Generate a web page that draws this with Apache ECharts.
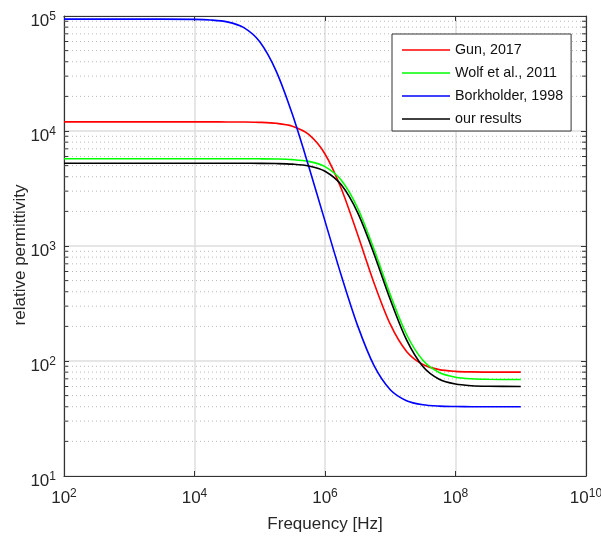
<!DOCTYPE html>
<html><head><meta charset="utf-8">
<script src="https://cdn.jsdelivr.net/npm/echarts@6/dist/echarts.min.js"></script>
<style>html,body{margin:0;padding:0;background:#fff}#c{width:601px;height:541px}</style>
</head><body><div id="c"></div>
<script>
// Frequencies [Hz] (sample points)
const freq = [1e2, 1e3, 1e4, 1.778e4, 3.162e4, 5.623e4, 1e5, 1.778e5, 3.162e5, 5.623e5,
              1e6, 1.778e6, 3.162e6, 5.623e6, 1e7, 1.778e7, 3.162e7, 5.623e7,
              1e8, 1.778e8, 3.162e8, 1e9];
const gun  = [12000, 12000, 11999, 11996, 11989, 11966, 11892, 11666, 11004, 9335,
              6314, 3149, 1258, 480, 209, 121, 93.1, 84.1, 81.3, 80.4, 80.1, 80];
const wolf = [5740, 5740, 5740, 5740, 5739, 5736, 5729, 5708, 5642, 5443,
              4899, 3727, 2140, 941, 377.5, 170, 101.4, 79.3, 72.3, 70, 69.3, 69];
const bork = [94000, 94000, 93460, 92320, 88890, 79530, 59700, 33360, 13960, 4934,
              1646, 553, 203, 91.6, 56.3, 45.2, 41.6, 40.5, 40.2, 40.05, 40, 40];
const ours = [5240, 5240, 5240, 5240, 5239, 5237, 5231, 5212, 5151, 4970,
              4472, 3402, 1952, 857, 342, 152.5, 89.6, 69.4, 63, 60.9, 60.3, 60];
const seriesNames = ['Gun, 2017', 'Wolf et al., 2011', 'Borkholder, 1998', 'our results'];
const seriesColors = ['#ff0000', '#00ff00', '#0000ff', '#000000'];
const xLabel = 'Frequency [Hz]';
const yLabel = 'relative permittivity';
const minorY = [20,30,40,50,60,70,80,90, 200,300,400,500,600,700,800,900,
                2000,3000,4000,5000,6000,7000,8000,9000, 20000,30000,40000,50000,60000,70000,80000,90000];

const FONT = "'Liberation Sans', Arial, sans-serif";
const TXT = '#262626';
const allData = [gun, wolf, bork, ours];

function pow10Label(v) {
  const e = Math.round(Math.log10(v));
  return '{b|10}{s|' + e + '}';
}
const rich = {
  b: {fontSize: 17, fontFamily: FONT, color: TXT, verticalAlign: 'bottom'},
  s: {fontSize: 12, fontFamily: FONT, color: TXT, verticalAlign: 'top', padding: [0, 0, 7, 0]}
};

const lineSeries = allData.map((arr, i) => ({
  name: seriesNames[i],
  type: 'line',
  data: freq.map((f, j) => [f, arr[j]]),
  symbol: 'none',
  smooth: 0.3,
  lineStyle: {color: seriesColors[i], width: 1.6},
  itemStyle: {color: seriesColors[i]},
  z: 5 + i,
  animation: false
}));

const minorSeries = {
  type: 'custom',
  silent: true,
  animation: false,
  clip: false,
  z: 1,
  data: minorY.map(v => [1e2, v]),
  encode: {x: 0, y: 1},
  renderItem: function (params, api) {
    const v = api.value(1);
    const p0 = api.coord([1e2, v]);
    const p1 = api.coord([1e10, v]);
    return {
      type: 'group',
      children: [
        {type: 'line', shape: {x1: p0[0], y1: p0[1], x2: p1[0], y2: p1[1]},
         style: {stroke: '#b8b8b8', lineWidth: 1, lineDash: [1, 3]}},
        {type: 'line', shape: {x1: p0[0], y1: p0[1], x2: p0[0] + 4, y2: p0[1]},
         style: {stroke: '#333', lineWidth: 1}},
        {type: 'line', shape: {x1: p1[0], y1: p1[1], x2: p1[0] - 4, y2: p1[1]},
         style: {stroke: '#333', lineWidth: 1}}
      ]
    };
  }
};

const axisLineStyle = {color: '#333', width: 1.2};
const chart = echarts.init(document.getElementById('c'), null, {renderer: 'canvas'});
chart.setOption({
  backgroundColor: '#fff',
  animation: false,
  grid: {left: 64, top: 16, right: 15, bottom: 65, containLabel: false, outerBoundsMode: 'none'},
  legend: {
    data: seriesNames,
    orient: 'vertical',
    left: 392, top: 34,
    padding: [9, 8, 5, 10],
    itemWidth: 48, itemHeight: 14, itemGap: 9,
    backgroundColor: '#fff',
    borderColor: '#333', borderWidth: 1,
    textStyle: {fontFamily: FONT, fontSize: 14.3, color: '#111'},
    icon: 'path://M0,0L48,0L48,1.6L0,1.6Z'
  },
  xAxis: [{
    type: 'log', logBase: 10, min: 1e2, max: 1e10, interval: 2,
    name: xLabel, nameLocation: 'middle', nameGap: 40, nameMoveOverlap: false,
    nameTextStyle: {fontFamily: FONT, fontSize: 17, color: TXT},
    axisLine: {show: true, onZero: false, lineStyle: axisLineStyle},
    axisTick: {show: true, inside: true, length: 5, lineStyle: {color: '#333'}},
    axisLabel: {formatter: pow10Label, rich: rich, margin: 12},
    splitLine: {show: true, lineStyle: {color: '#dedede', width: 1.5}},
    minorTick: {show: false}
  }, {
    type: 'log', logBase: 10, min: 1e2, max: 1e10, interval: 2, position: 'top',
    axisLine: {show: true, onZero: false, lineStyle: axisLineStyle},
    axisTick: {show: true, inside: true, length: 5, lineStyle: {color: '#333'}},
    axisLabel: {show: false}, splitLine: {show: false}
  }],
  yAxis: [{
    type: 'log', logBase: 10, min: 10, max: 1e5, interval: 1,
    name: yLabel, nameLocation: 'middle', nameGap: 35, nameMoveOverlap: false,
    nameTextStyle: {fontFamily: FONT, fontSize: 17, color: TXT, padding: [0, 0, 0, -18]},
    axisLine: {show: true, onZero: false, lineStyle: axisLineStyle},
    axisTick: {show: true, inside: true, length: 5, lineStyle: {color: '#333'}},
    axisLabel: {formatter: pow10Label, rich: rich, margin: 8, padding: [8, 0, 0, 0]},
    splitLine: {show: true, lineStyle: {color: '#dedede', width: 1.5}}
  }, {
    type: 'log', logBase: 10, min: 10, max: 1e5, interval: 1, position: 'right',
    axisLine: {show: true, onZero: false, lineStyle: axisLineStyle},
    axisTick: {show: true, inside: true, length: 5, lineStyle: {color: '#333'}},
    axisLabel: {show: false}, splitLine: {show: false}
  }],
  series: [minorSeries].concat(lineSeries)
});
</script>
</body></html>
